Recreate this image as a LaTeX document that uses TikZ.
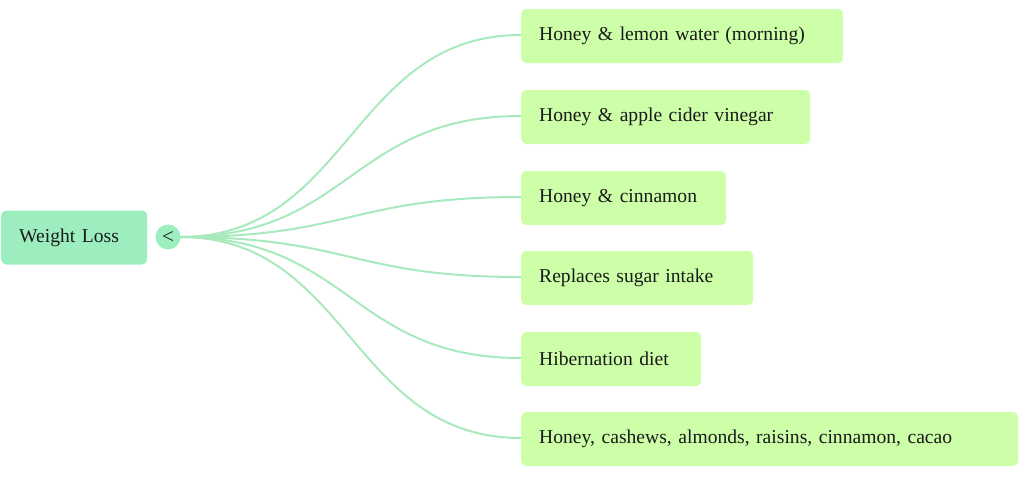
\documentclass[tikz,border=0pt]{standalone}
\usepackage{fontspec}
\setmainfont{Liberation Serif}
\usepackage{tikz}
\definecolor{rootfill}{HTML}{9DEEBF}
\definecolor{leaffill}{HTML}{CCFFA7}
\definecolor{branch}{HTML}{A8E9BD}
\definecolor{ink}{HTML}{1A1A1A}
\tikzset{
  rootbox/.style={fill=rootfill,rounded corners=5pt,minimum height=54pt,
    inner xsep=18pt,inner ysep=0pt,anchor=west,align=left,text width=#1,
    text=ink,font=\fontsize{19.6}{24}\selectfont},
  leafbox/.style={fill=leaffill,rounded corners=5pt,minimum height=54pt,
    inner xsep=18pt,inner ysep=0pt,anchor=west,align=left,text width=#1,
    text=ink,font=\fontsize{19.6}{24}\selectfont},
  toggle/.style={circle,fill=rootfill,minimum size=25pt,inner sep=0pt,text=ink,
    font=\fontsize{21}{22}\selectfont},
  twig/.style={draw=branch,line width=2pt}
}

\begin{document}
\begin{tikzpicture}[x=1pt,y=-1pt]
\useasboundingbox (0,0) rectangle (1024,482);
\foreach \ly in {35,116,197,277,358,438}
  \coordinate (end\ly) at (521,\ly);
\coordinate (hub) at (180,237);
% branches first, boxes on top
\foreach \ly in {35,116,197,277,358,438}
  \draw[twig] (hub) .. controls +(170,0) and ([xshift=-170pt]end\ly) .. (end\ly);
\node[rootbox=110pt] (root) at (1,237.5) {Weight Loss};
\node[toggle] (fold) at (168,237) {<};
\node[leafbox=286pt] (lemon) at ([yshift=-1pt]end35) {Honey \& lemon water (morning)};
\node[leafbox=253pt] (vinegar) at ([yshift=-1pt]end116) {Honey \& apple cider vinegar};
\node[leafbox=169pt] (cinnamon) at ([yshift=-1pt]end197) {Honey \& cinnamon};
\node[leafbox=196pt] (sugar) at ([yshift=-1pt]end277) {Replaces sugar intake};
\node[leafbox=144pt] (hibernate) at ([yshift=-1pt]end358) {Hibernation diet};
\node[leafbox=461pt] (mix) at ([yshift=-1pt]end438) {Honey, cashews, almonds, raisins, cinnamon, cacao};
\end{tikzpicture}
\end{document}
